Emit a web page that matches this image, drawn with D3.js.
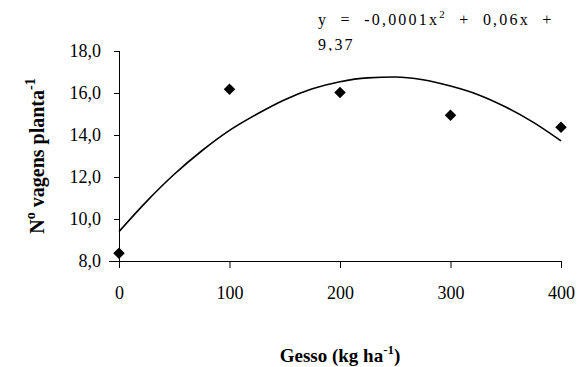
<!DOCTYPE html>
<html>
<head>
<meta charset="utf-8">
<script src="https://cdn.jsdelivr.net/npm/d3@7"></script>
<style>
  body { margin: 0; background: #fff; font-family: "Liberation Serif", serif; }
  svg text, svg tspan { font-family: "Liberation Serif", serif !important; }
</style>
</head>
<body>
<div id="chart"></div>
<script>
// observed values
const doses = [0, 100, 200, 300, 400];
const vagens = [8.37, 16.18, 16.02, 14.94, 14.37];

// trend line
const trendX = [0, 25, 50, 75, 100, 125, 150, 175, 200, 225, 250, 275, 300, 325, 350, 375, 400];
const trendY = [9.4, 10.84, 12.13, 13.25, 14.22, 15.0, 15.68, 16.2, 16.54, 16.72, 16.76, 16.63, 16.33, 15.92, 15.33, 14.6, 13.72];

const yTicks = [8, 10, 12, 14, 16, 18];
const xTicks = [0, 100, 200, 300, 400];
const equation = "y = -0,0001x";
const equation2 = " + 0,06x +";
const equationLine2 = "9,37";

const serif = "Liberation Serif";
const width = 582, height = 367;
const margin = { top: 51, right: 21, bottom: 106, left: 119 };

const svg = d3.select("#chart").append("svg")
	.attr("width", width)
	.attr("height", height)
	.style("font-family", serif);

const x = d3.scaleLinear().domain([0, 400]).range([margin.left, width - margin.right]);
const y = d3.scaleLinear().domain([8, 18]).range([height - margin.bottom, margin.top]);

// x axis
const xAxis = svg.append("g")
	.attr("transform", "translate(0," + y(8) + ")")
	.call(d3.axisBottom(x).tickValues(xTicks).tickSize(7).tickPadding(18).tickFormat(d3.format("d")));
xAxis.select(".domain").attr("d", "M" + (x(0) - 10) + ",0.5H" + x(400));

// y axis
const yAxis = svg.append("g")
	.attr("transform", "translate(" + x(0) + ",0)")
	.call(d3.axisLeft(y).tickValues(yTicks).tickSize(5).tickPadding(13).tickFormat(d => d.toFixed(1).replace(".", ",")));
yAxis.select(".domain").attr("d", "M0.5," + y(18) + "V" + (y(8) + 7));

svg.selectAll("g").attr("font-family", serif);
svg.selectAll(".tick text")
	.attr("font-size", 18)
	.attr("fill", "#000");
svg.selectAll(".domain, .tick line").attr("stroke", "#000");

// trend line
const trend = trendX.map((d, i) => ({ x: d, y: trendY[i] }));
svg.append("path")
	.datum(trend)
	.attr("d", d3.line().x(d => x(d.x)).y(d => y(d.y)).curve(d3.curveMonotoneX))
	.attr("fill", "none")
	.attr("stroke", "#000")
	.attr("stroke-width", 1.6);

// points
svg.selectAll(".pt")
	.data(doses)
	.join("path")
	.attr("class", "pt")
	.attr("d", d3.symbol().type(d3.symbolDiamond2).size(85))
	.attr("transform", (d, i) => "translate(" + x(d) + "," + y(vagens[i]) + ")")
	.attr("fill", "#000");

// equation, clipped at the top of the plot
svg.append("clipPath").attr("id", "eqclip")
	.append("rect").attr("x", 300).attr("y", 0).attr("width", 282).attr("height", margin.top);
const eq = svg.append("g").attr("clip-path", "url(#eqclip)");
const t1 = eq.append("text")
	.attr("x", 318).attr("y", 25)
	.attr("font-size", 16)
	.attr("letter-spacing", 2.2)
	.style("white-space", "pre");
t1.append("tspan").text(equation.replace(/ /g, "  "));
t1.append("tspan").attr("dy", -7).attr("font-size", 11).text("2");
t1.append("tspan").attr("dy", 7).text(equation2.replace(/ /g, "  "));
eq.append("text")
	.attr("x", 318).attr("y", 50)
	.attr("font-size", 16)
	.attr("letter-spacing", 2.2)
	.text(equationLine2);

// axis titles
const xt = svg.append("text")
	.attr("x", x(200)).attr("y", 362)
	.attr("text-anchor", "middle")
	.attr("font-size", 19)
	.attr("font-weight", "bold");
xt.append("tspan").text("Gesso (kg ha");
xt.append("tspan").attr("dy", -8).attr("font-size", 13).text("-1");
xt.append("tspan").attr("dy", 8).text(")");

const yt = svg.append("text")
	.attr("transform", "translate(44," + 156 + ") rotate(-90)")
	.attr("text-anchor", "middle")
	.attr("font-size", 20)
	.attr("font-weight", "bold");
yt.append("tspan").text("N");
yt.append("tspan").attr("dy", -9).attr("font-size", 14).text("o");
yt.append("tspan").attr("dy", 9).text(" vagens planta");
yt.append("tspan").attr("dy", -9).attr("font-size", 14).text("-1");

svg.selectAll("text, tspan")
	.attr("font-family", serif)
	.style("font-family", serif);
</script>
</body>
</html>
